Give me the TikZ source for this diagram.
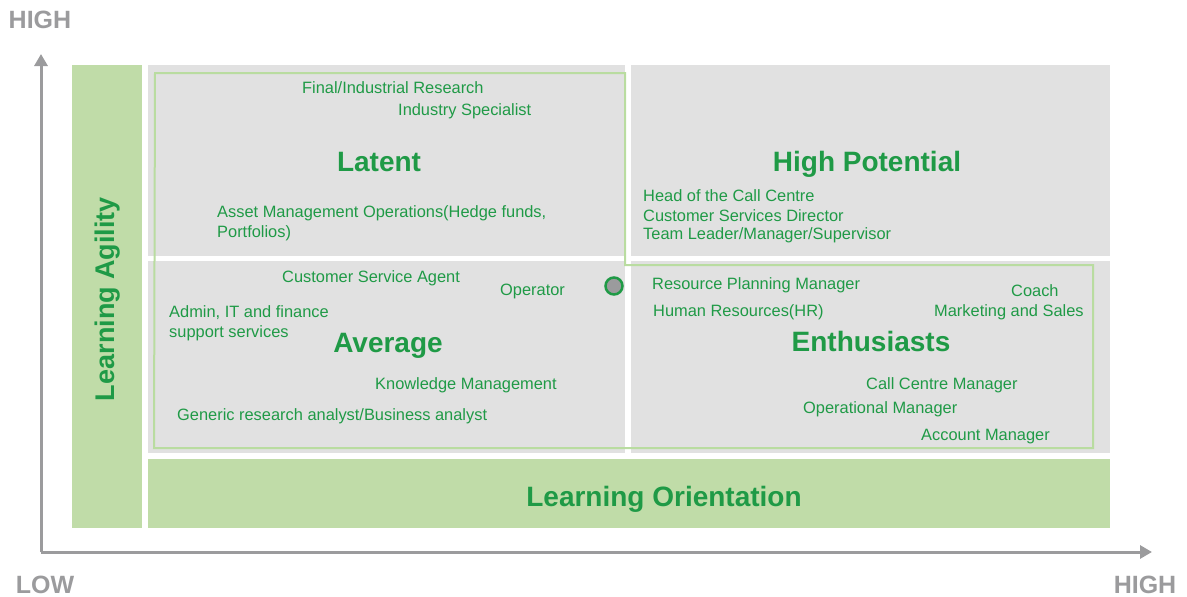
\documentclass[tikz,border=0pt]{standalone}
\usepackage{fontspec}
\setmainfont{Liberation Sans}
\usetikzlibrary{arrows.meta}
\definecolor{tgreen}{HTML}{1F9A46}
\definecolor{bargreen}{HTML}{C0DCA8}
\definecolor{linegreen}{HTML}{B9DCA0}
\definecolor{quadgray}{HTML}{E1E1E1}
\definecolor{axisgray}{HTML}{9B9B9D}
\begin{document}
\begin{tikzpicture}[x=1pt,y=-1pt,
  item/.style={anchor=west,inner sep=0pt,text=tgreen,font=\fontsize{16.4}{19.5}\selectfont,align=left},
  title/.style={anchor=base,inner sep=0pt,text=tgreen,font=\fontsize{28}{30}\bfseries\selectfont},
  axlabel/.style={inner sep=0pt,text=axisgray,font=\fontsize{25}{28}\bfseries\selectfont},
  axis/.style={draw=axisgray,line width=3pt,-{Triangle[width=13pt,length=12pt]}}]
\useasboundingbox (0,0) rectangle (1187,597);
% bars
\fill[bargreen] (72,65) rectangle (142,528);
\fill[bargreen] (148,459) rectangle (1110,528);
% quadrants
\fill[quadgray] (148,65) rectangle (625,256);
\fill[quadgray] (631,65) rectangle (1110,256);
\fill[quadgray] (148,261) rectangle (625,453);
\fill[quadgray] (631,261) rectangle (1110,453);
% outline
\draw[linegreen,line width=2pt] (155,73) -- (625,73) -- (625,265) -- (1093,265) -- (1093,448) -- (154,448) -- cycle;
% axes
\coordinate (o) at (41,552);
\coordinate (ytop) at (41,54);
\coordinate (xend) at (1152,552);
\draw[axis] (o) -- (ytop);
\draw[axis] (o) -- (xend);
\node[axlabel] (hightop) at (40,20) {HIGH};
\node[axlabel] (low) at (45,585) {LOW};
\node[axlabel] (highright) at (1145,585) {HIGH};
% bar labels
\node[inner sep=0pt,text=tgreen,font=\fontsize{27}{30}\bfseries\selectfont,rotate=90] (agility) at (108,299) {Learning Agility};
\node[title] (orient) at (664,506) {Learning Orientation};
% quadrant titles
\node[title] (latent) at (379,171) {Latent};
\node[title] (highpot) at (867,171) {High Potential};
\node[title] (average) at (388,352) {Average};
\node[title] (enth) at (871,351) {Enthusiasts};
% items
\node[item] (i1) at (302,88) {Final/Industrial Research};
\node[item] (i2) at (398,111) {Industry Specialist};
\node[item] (i3) at (217,223.5) {Asset Management Operations(Hedge funds,\\Portfolios)};
\node[item] (i4) at (643,196) {Head of the Call Centre};
\node[item] (i5) at (643,215.5) {Customer Services Director};
\node[item] (i6) at (643,235) {Team Leader/Manager/Supervisor};
\node[item] (i7) at (282,278) {Customer Service Agent};
\node[item] (i8) at (500,291) {Operator};
\node[item] (i9) at (169,323.5) {Admin, IT and finance\\support services};
\node[item] (i10) at (375,385) {Knowledge Management};
\node[item] (i11) at (177,416) {Generic research analyst/Business analyst};
\node[item] (i12) at (652,285) {Resource Planning Manager};
\node[item] (i13) at (653,312) {Human Resources(HR)};
\node[item] (i14) at (1011,291) {Coach};
\node[item] (i15) at (934,312) {Marketing and Sales};
\node[item] (i16) at (866,385) {Call Centre Manager};
\node[item] (i17) at (803,409) {Operational Manager};
\node[item] (i18) at (921,437) {Account Manager};
% marker
\node[circle,draw=tgreen,fill=axisgray,line width=2.5pt,minimum size=17pt,inner sep=0pt] (dot) at (614,286) {};
\end{tikzpicture}
\end{document}
